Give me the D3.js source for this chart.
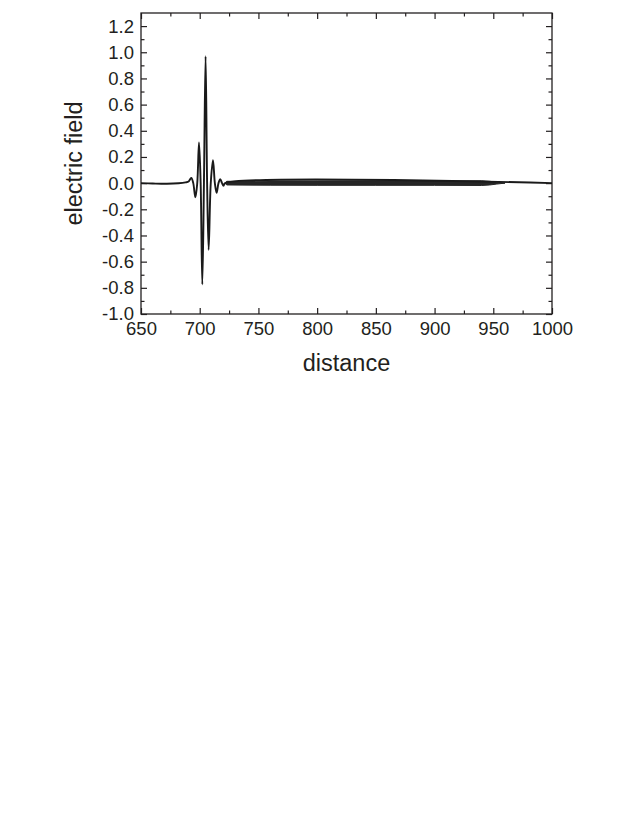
<!DOCTYPE html>
<html lang="en">
<head>
  <meta charset="utf-8">
  <title>electric field vs distance</title>
  <script src="https://d3js.org/d3.v7.min.js"></script>
  <style>
    body { margin: 0; background: #fff; }
    svg text { font-family: "Liberation Sans", Arial, sans-serif; fill: #231f20; }
  </style>
</head>
<body>
  <div id="chart"></div>
  <script>
    // main pulse (distance, field)
    var pulseX = [650, 660, 672, 682, 688, 690.5, 692.8, 694.5, 696.3, 697.9, 699.4, 700.8,
                  702.2, 703.6, 705.0, 706.3, 707.6, 709.4, 711.3, 712.9, 714.4, 716.0,
                  717.5, 719.0, 720.3, 721.6, 1000];
    var pulseY = [0.0, -0.003, -0.005, -0.001, 0.006, 0.012, 0.04, 0.0, -0.108, 0.0, 0.31, 0.0,
                  -0.774, 0.0, 0.97, 0.0, -0.51, 0.0, 0.175, 0.0, -0.074, 0.0,
                  0.03, 0.0, -0.02, 0.0, 0.0];

    // fast ripple band behind the pulse: envelope (upper / lower)
    var bandX     = [721.6, 723, 760, 800, 850, 900, 940, 947, 953, 960];
    var bandUpper = [0.0, 0.014, 0.016, 0.017, 0.017, 0.017, 0.018, 0.014, 0.007, 0.0];
    var bandLower = [0.0, -0.014, -0.016, -0.017, -0.017, -0.017, -0.018, -0.014, -0.007, 0.0];

    var xTicks = [650, 700, 750, 800, 850, 900, 950, 1000];
    var yTicks = [-1.0, -0.8, -0.6, -0.4, -0.2, 0.0, 0.2, 0.4, 0.6, 0.8, 1.0, 1.2];

    var width = 638, height = 825;
    var margin = {left: 141, top: 13, right: 638 - 552, bottom: 825 - 314};
    var iw = width - margin.left - margin.right,
        ih = height - margin.top - margin.bottom;

    var svg = d3.select("#chart").append("svg")
      .attr("width", width)
      .attr("height", height);

    var g = svg.append("g").attr("transform", "translate(" + margin.left + "," + margin.top + ")");

    var x = d3.scaleLinear().domain([650, 1000]).range([0, iw]);
    var y = d3.scaleLinear().domain([-1.0, 1.3]).range([ih, 0]);

    var fmtY = d => d3.format(".1f")(d).replace("\u2212", "-");

    var minorX = d3.range(675, 1000, 50);
    var minorY = d3.range(-0.9, 1.3, 0.2);

    function tickAxis(axisFn, scale, vals, size, labels) {
      return axisFn(scale).tickValues(vals).tickSizeInner(-size).tickSizeOuter(0)
        .tickFormat(labels ? null : "");
    }

    // bottom
    g.append("g").attr("transform", "translate(0," + ih + ")")
      .call(tickAxis(d3.axisBottom, x, xTicks, 6, true).tickFormat(d3.format("d")).tickPadding(8));
    g.append("g").attr("transform", "translate(0," + ih + ")")
      .call(tickAxis(d3.axisBottom, x, minorX, 3.5, false));
    // top
    g.append("g").call(tickAxis(d3.axisTop, x, xTicks, 6, false));
    g.append("g").call(tickAxis(d3.axisTop, x, minorX, 3.5, false));
    // left
    g.append("g")
      .call(tickAxis(d3.axisLeft, y, yTicks, 6, true).tickFormat(fmtY).tickPadding(7));
    g.append("g").call(tickAxis(d3.axisLeft, y, minorY, 3.5, false));
    // right
    g.append("g").attr("transform", "translate(" + iw + ",0)")
      .call(tickAxis(d3.axisRight, y, yTicks, 6, false));
    g.append("g").attr("transform", "translate(" + iw + ",0)")
      .call(tickAxis(d3.axisRight, y, minorY, 3.5, false));

    g.selectAll(".domain").remove();
    g.selectAll(".tick line").attr("stroke", "#231f20").attr("stroke-width", 1.2);
    g.selectAll(".tick text").style("font-size", "18.5px").attr("fill", "#231f20");

    g.append("rect")
      .attr("width", iw).attr("height", ih)
      .attr("fill", "none").attr("stroke", "#231f20").attr("stroke-width", 1.3);

    // ripple band
    var band = bandX.map((d, i) => ({x: d, hi: bandUpper[i], lo: bandLower[i]}));
    g.append("path")
      .datum(band)
      .attr("fill", "#262626")
      .attr("stroke", "#262626")
      .attr("stroke-width", 1)
      .attr("d", d3.area().x(d => x(d.x)).y0(d => y(d.lo)).y1(d => y(d.hi)).curve(d3.curveLinear));

    // pulse line
    var pulse = pulseX.map((d, i) => ({x: d, y: pulseY[i]}));
    g.append("path")
      .datum(pulse)
      .attr("fill", "none")
      .attr("stroke", "#1a1a1a")
      .attr("stroke-width", 1.9)
      .attr("stroke-linejoin", "round")
      .attr("d", d3.line().x(d => x(d.x)).y(d => y(d.y)).curve(d3.curveCatmullRom.alpha(0.5)));

    // axis titles
    svg.append("text")
      .attr("x", margin.left + iw / 2)
      .attr("y", 371)
      .attr("text-anchor", "middle")
      .style("font-size", "23.5px")
      .text("distance");

    svg.append("text")
      .attr("transform", "translate(82," + (margin.top + ih / 2) + ") rotate(-90)")
      .attr("text-anchor", "middle")
      .style("font-size", "23.5px")
      .text("electric field");
  </script>
</body>
</html>
